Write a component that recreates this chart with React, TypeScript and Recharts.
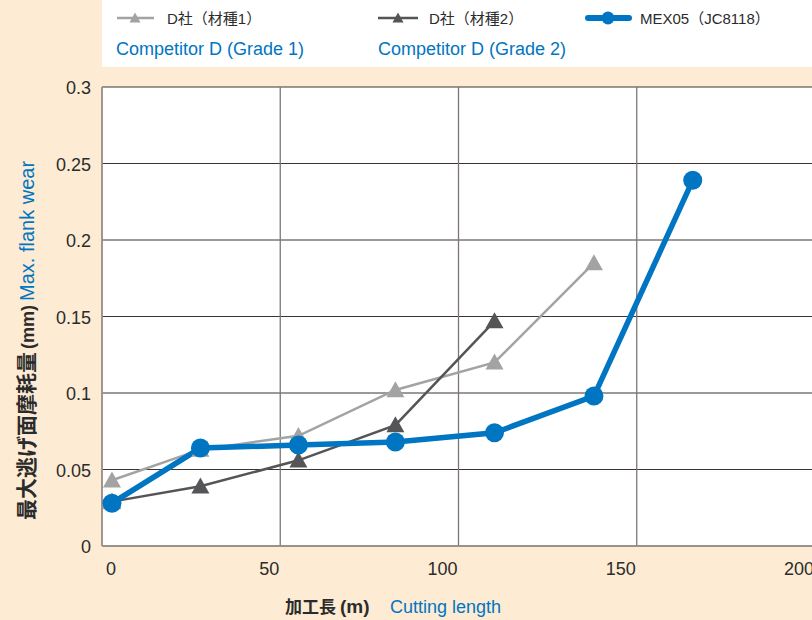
import React from "react";
import { LineChart, Line, XAxis, YAxis, CartesianGrid, Legend } from "recharts";

const cuttingLength = [2.8, 27.6, 55.1, 82.3, 110.1, 138, 165.7];
const grade1 = [0.043, 0.063, 0.072, 0.102, 0.12, 0.185, null];
const grade2 = [0.029, 0.039, 0.056, 0.079, 0.147, null, null];
const mex05 = [0.028, 0.064, 0.066, 0.068, 0.074, 0.098, 0.239];

const xTicks = [0, 50, 100, 150, 200];
const yTicks = [0, 0.05, 0.1, 0.15, 0.2, 0.25, 0.3];

const seriesNames = {
  g1jp: "D社（材種1）",
  g1en: "Competitor D (Grade 1)",
  g2jp: "D社（材種2）",
  g2en: "Competitor D (Grade 2)",
  mex: "MEX05（JC8118）",
};

const data = cuttingLength.map((x, i) => ({
  x,
  g1: grade1[i],
  g2: grade2[i],
  mex: mex05[i],
}));

const PEACH = "#fdebd4";
const LIGHT = "#a3a3a3";
const DARK = "#555557";
const BLUE = "#0075c2";
const FONT = "'Liberation Sans', Arial, sans-serif";
const CJK = "'Liberation Sans', 'Noto Sans CJK JP', sans-serif";

const triPath = (cx: number, cy: number, w: number, h: number) =>
  `M${cx},${cy - h * 0.55} L${cx + w / 2},${cy + h * 0.45} L${cx - w / 2},${cy + h * 0.45} Z`;

const makeTri = (color: string) => (props: any) => {
  const { cx, cy, index, value } = props;
  if (cx == null || cy == null || value == null || (Array.isArray(value) && value[1] == null))
    return <g key={`t-${index}`} />;
  return <path key={`t-${index}`} d={triPath(cx, cy, 18, 16)} fill={color} />;
};

const XTick = (props: any) => {
  const { x, y, payload, index } = props;
  const first = index === 0;
  return (
    <text
      x={first ? x + 4 : x - 1}
      y={y + 21}
      textAnchor={first ? "start" : "end"}
      fontSize={18}
      fontFamily={FONT}
      fill="#2b2b2b"
    >
      {payload.value}
    </text>
  );
};

const YTick = (props: any) => {
  const { x, y, payload } = props;
  return (
    <text x={x - 3} y={y + 7} textAnchor="end" fontSize={18} fontFamily={FONT} fill="#2b2b2b">
      {payload.value}
    </text>
  );
};

const renderLegend = () => (
  <div
    style={{
      position: "absolute",
      left: 102,
      top: 0,
      width: 720,
      height: 67,
      background: "#ffffff",
    }}
  >
    <svg width={720} height={67} style={{ position: "absolute", left: 0, top: 0 }}>
      {/* col 1 */}
      <line x1={15} x2={52} y1={18} y2={18} stroke={LIGHT} strokeWidth={2.5} />
      <path d={triPath(33, 18, 11, 10)} fill={LIGHT} />
      <text x={65} y={24} fontSize={15} fontFamily={CJK} fill="#2b2b2b">{seriesNames.g1jp}</text>
      <text x={14} y={55} fontSize={18} fontFamily={FONT} fill={BLUE}>{seriesNames.g1en}</text>
      {/* col 2 */}
      <line x1={276} x2={316} y1={18} y2={18} stroke={DARK} strokeWidth={2.5} />
      <path d={triPath(296, 18, 11, 10)} fill={DARK} />
      <text x={327} y={24} fontSize={15} fontFamily={CJK} fill="#2b2b2b">{seriesNames.g2jp}</text>
      <text x={276} y={55} fontSize={18} fontFamily={FONT} fill={BLUE}>{seriesNames.g2en}</text>
      {/* col 3 */}
      <line x1={486} x2={527} y1={18} y2={18} stroke={BLUE} strokeWidth={6} strokeLinecap="round" />
      <circle cx={506} cy={18} r={6.5} fill={BLUE} />
      <text x={538} y={24} fontSize={15} fontFamily={CJK} fill="#2b2b2b">{seriesNames.mex}</text>
    </svg>
  </div>
);

export default function App() {
  return (
    <div
      style={{
        position: "absolute",
        left: 0,
        top: 0,
        width: 812,
        height: 620,
        overflow: "hidden",
        background: PEACH,
      }}
    >
      <LineChart
        width={816}
        height={620}
        data={data}
        margin={{ top: 87, right: 1, bottom: 44, left: 0 }}
        style={{ position: "absolute", left: 0, top: 0 }}
      >
        <CartesianGrid fill="#ffffff" vertical={false} stroke="#3a3434" strokeWidth={1} />
        <CartesianGrid horizontal={false} stroke="#7d7674" strokeWidth={1.3} />
        <XAxis
          type="number"
          dataKey="x"
          domain={[0, 200]}
          ticks={xTicks}
          interval={0}
          tick={<XTick />}
          tickLine={false}
          axisLine={{ stroke: "#9a928c", strokeWidth: 1.5 }}
          height={30}
          allowDataOverflow
        />
        <YAxis
          type="number"
          domain={[0, 0.3]}
          ticks={yTicks}
          interval={0}
          tick={<YTick />}
          tickLine={false}
          axisLine={{ stroke: "#9a928c", strokeWidth: 1.5 }}
          width={102}
        />
        <Legend content={renderLegend} wrapperStyle={{ position: "absolute", left: 0, top: 0 }} />
        <Line
          dataKey="g1"
          stroke={LIGHT}
          strokeWidth={2.5}
          dot={makeTri(LIGHT)}
          activeDot={false}
          isAnimationActive={false}
          name={seriesNames.g1jp}
        />
        <Line
          dataKey="g2"
          stroke={DARK}
          strokeWidth={2.5}
          dot={makeTri(DARK)}
          activeDot={false}
          isAnimationActive={false}
          name={seriesNames.g2jp}
        />
        <Line
          dataKey="mex"
          stroke={BLUE}
          strokeWidth={5.5}
          dot={{ r: 9.5, fill: BLUE, stroke: BLUE, strokeWidth: 0 }}
          activeDot={false}
          isAnimationActive={false}
          name={seriesNames.mex}
        />
        <text x={285} y={613} fontSize={17} fontFamily={CJK} fontWeight={700} fill="#2b2b2b">
          加工長
          <tspan dx={4} fontSize={19}>(m)</tspan>
          <tspan x={390} fontSize={18} fontFamily={FONT} fontWeight={400} fill={BLUE}>Cutting length</tspan>
        </text>
        <text
          transform="translate(34, 520) rotate(-90)"
          fontSize={21}
          fontFamily={CJK}
          fontWeight={700}
          fill="#2b2b2b"
        >
          最大逃げ面摩耗量
          <tspan dx={3} fontSize={18}>(mm)</tspan>
          <tspan dx={4} fontSize={20} fontFamily={FONT} fontWeight={400} fill={BLUE}>Max. flank wear</tspan>
        </text>
      </LineChart>
    </div>
  );
}
